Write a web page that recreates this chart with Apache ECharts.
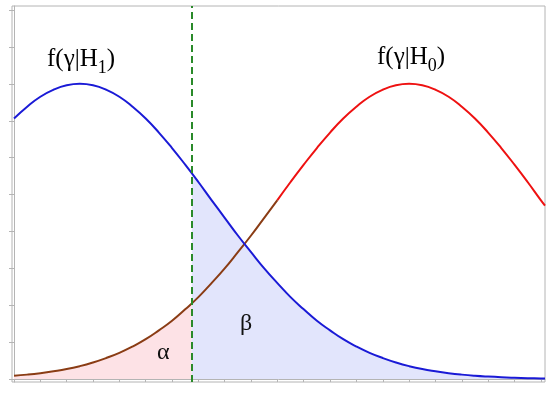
<!DOCTYPE html>
<html>
<head>
<meta charset="utf-8">
<script src="https://cdn.jsdelivr.net/npm/echarts@6/dist/echarts.min.js"></script>
<style>html,body{margin:0;padding:0;background:#fff}#c{width:550px;height:393px}</style>
</head>
<body>
<div id="c"></div>
<script>
// x positions (axis units, 0..20.16)
var xs = [0,0.5,1,1.5,2,2.5,3,3.5,4,4.5,5,5.5,6,6.5,7,7.5,8,8.5,9,9.5,10,10.5,11,11.5,12,12.5,13,13.5,14,14.5,15,15.5,16,16.5,17,17.5,18,18.5,19,19.5,20,20.16];
// f(γ|H1) – blue curve
var blueVals = [7.06,7.38,7.65,7.84,7.96,8.00,7.96,7.84,7.65,7.38,7.06,6.68,6.26,5.81,5.34,4.85,4.37,3.89,3.44,3.00,2.60,2.22,1.89,1.58,1.32,1.08,0.88,0.71,0.57,0.45,0.35,0.27,0.21,0.16,0.12,0.089,0.066,0.048,0.035,0.025,0.018,0.016];
// f(γ|H0) – red curve
var redVals = [0.089,0.12,0.16,0.21,0.27,0.35,0.45,0.57,0.71,0.88,1.08,1.32,1.58,1.89,2.22,2.60,3.00,3.44,3.89,4.37,4.85,5.34,5.81,6.26,6.68,7.06,7.38,7.65,7.84,7.96,8.00,7.96,7.84,7.65,7.38,7.06,6.68,6.26,5.81,5.34,4.85,4.70];
var threshold = 6.75;     // dashed decision line
var blueAtT = 5.57;
var redAtT = 2.05;
var colorSplitX = 10;     // red curve drawn brown left of this
var xTicks = [0,1,2,3,4,5,6,7,8,9,10,11,12,13,14,15,16,17,18,19,20];
var yTicks = [0,1,2,3,4,5,6,7,8,9,10];

function pairs(vals, cond){ var out=[]; for(var i=0;i<xs.length;i++){ if(cond(xs[i])) out.push([xs[i], vals[i]]); } return out; }
var pinkArea = pairs(redVals, function(x){return x < threshold;}); pinkArea.push([threshold, redAtT]);
var blueArea = [[threshold, blueAtT]].concat(pairs(blueVals, function(x){return x > threshold;}));
var blueLine = pairs(blueVals, function(){return true;});
var brownLine = pairs(redVals, function(x){return x <= colorSplitX;});
var redLine = pairs(redVals, function(x){return x >= colorSplitX;});

var chart = echarts.init(document.getElementById('c'), null, {renderer:'canvas'});
var serif = '"Liberation Serif","DejaVu Serif",serif';
var labelRich = {
  m:{fontSize:25,fontFamily:serif,color:'#111',verticalAlign:'top',lineHeight:28},
  s:{fontSize:18,fontFamily:serif,color:'#111',verticalAlign:'top',padding:[12,0,0,0],lineHeight:20}
};
chart.setOption({
  animation:false,
  grid:{left:12,right:5,top:6,bottom:11,show:true,borderColor:'#b4b4b4',borderWidth:1,backgroundColor:'transparent'},
  xAxis:{type:'value',min:-0.076,max:20.16,
    axisLine:{show:true,lineStyle:{color:'#b4b4b4',width:1}},
    axisTick:{show:true,customValues:xTicks,length:3,lineStyle:{color:'#b4b4b4'}},
    axisLabel:{show:false},splitLine:{show:false}},
  yAxis:{type:'value',min:-0.08,max:10.11,
    axisLine:{show:true,lineStyle:{color:'#b4b4b4',width:1}},
    axisTick:{show:true,customValues:yTicks,length:5,lineStyle:{color:'#b4b4b4'}},
    axisLabel:{show:false},splitLine:{show:false}},
  series:[
    {type:'line',data:pinkArea,smooth:true,symbol:'none',lineStyle:{width:0},areaStyle:{color:'#fde2e6',opacity:1},z:1},
    {type:'line',data:blueArea,smooth:true,symbol:'none',lineStyle:{width:0},areaStyle:{color:'#e2e5fc',opacity:1},z:1},
    {type:'line',data:brownLine,smooth:true,symbol:'none',lineStyle:{color:'#8a3c14',width:2},z:3},
    {type:'line',data:redLine,smooth:true,symbol:'none',lineStyle:{color:'#ee1111',width:2},z:3},
    {type:'line',data:blueLine,smooth:true,symbol:'none',lineStyle:{color:'#1a1ad6',width:2},z:4,
      markLine:{silent:true,symbol:'none',label:{show:false},
        lineStyle:{color:'#2a8a2a',width:2,type:[7,4]},data:[{xAxis:threshold}]}}
  ],
  graphic:[
    {type:'text',left:47,top:47,z:10,style:{text:'{m|f(γ|H}{s|1}{m|)}',rich:labelRich}},
    {type:'text',left:377,top:45,z:10,style:{text:'{m|f(γ|H}{s|0}{m|)}',rich:labelRich}},
    {type:'text',left:157,top:341,z:10,style:{text:'α',font:'24px '+serif,fill:'#111'}},
    {type:'text',left:240,top:312,z:10,style:{text:'β',font:'24px '+serif,fill:'#111'}}
  ]
});
</script>
</body>
</html>
